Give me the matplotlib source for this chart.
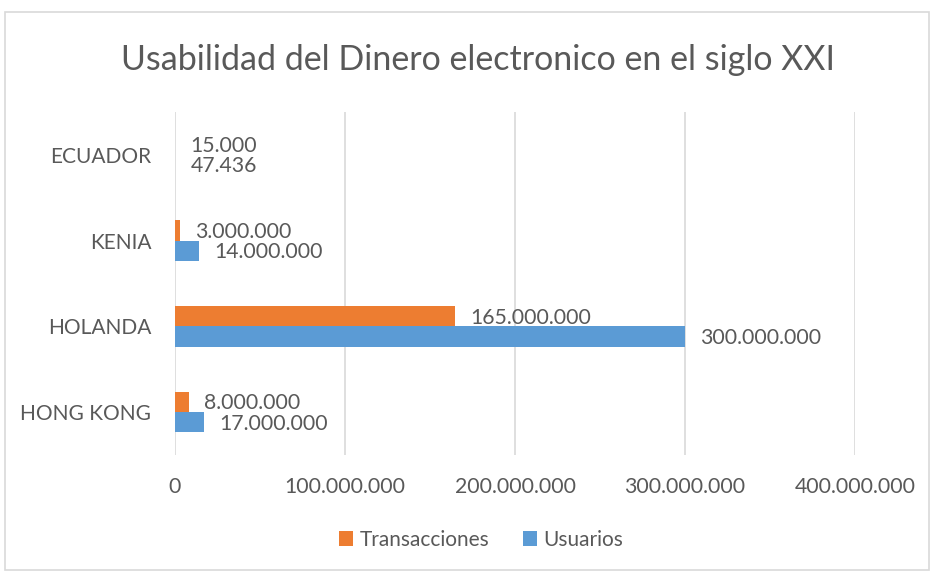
import matplotlib
matplotlib.use("Agg")
import matplotlib.pyplot as plt
from matplotlib.patches import Rectangle
import numpy as np

categories = ["HONG KONG", "HOLANDA", "KENIA", "ECUADOR"]
usuarios = [17000000, 300000000, 14000000, 47436]
transacciones = [8000000, 165000000, 3000000, 15000]
xticks = [0, 100000000, 200000000, 300000000, 400000000]
title = "Usabilidad del Dinero electronico en el siglo XXI"

plt.rcParams['font.family'] = ['Lato', 'DejaVu Sans']
txt = '#595959'
orange = '#ED7D31'
blue = '#5B9BD5'

def fmt(v):
    return f"{v:,}".replace(",", ".")

fig = plt.figure(figsize=(9.31, 5.72), dpi=100)
fig.patches.append(Rectangle((5/931, 2/572), 924/931, 558/572, transform=fig.transFigure,
                             fill=False, edgecolor='#d9d9d9', linewidth=1.2))
ax = fig.add_axes([175/931, 1 - 455/572, 680/931, 343/572])

y = np.arange(len(categories))
h = 0.237
b1 = ax.barh(y - h/2, usuarios, height=h, color=blue, label='Usuarios', zorder=3)
b2 = ax.barh(y + h/2, transacciones, height=h, color=orange, label='Transacciones', zorder=3)

for bars, vals in ((b1, usuarios), (b2, transacciones)):
    for bar, v in zip(bars, vals):
        ax.annotate(fmt(v), (bar.get_width(), bar.get_y() + bar.get_height()/2),
                    xytext=(11, -1), textcoords='offset points', va='center', ha='left',
                    fontsize=15.3, color=txt)

ax.set_xlim(0, 400000000)
ax.set_ylim(-0.5, 3.5)
ax.set_xticks(xticks)
ax.set_xticklabels([fmt(v) for v in xticks], fontsize=15.3, color=txt)
ax.set_yticks(y)
ax.set_yticklabels(categories, fontsize=15, color=txt)
ax.tick_params(axis='both', length=0)
ax.tick_params(axis='x', pad=16)
ax.tick_params(axis='y', pad=17)
ax.grid(axis='x', color='#d9d9d9', linewidth=1.2, zorder=0)
for s in ax.spines.values():
    s.set_visible(False)

fig.text(478/931, 1 - 60/572, title, ha='center', va='center', fontsize=24.5, color=txt)

handles = [b2, b1]
fig.legend(handles, ['Transacciones', 'Usuarios'], loc='center', bbox_to_anchor=(481/931, 1 - 540/572),
           ncol=2, frameon=False, fontsize=15, labelcolor=txt, handlelength=0.7, handleheight=0.7,
           handletextpad=0.3, columnspacing=1.6)

fig.savefig('out.png', dpi=100)
